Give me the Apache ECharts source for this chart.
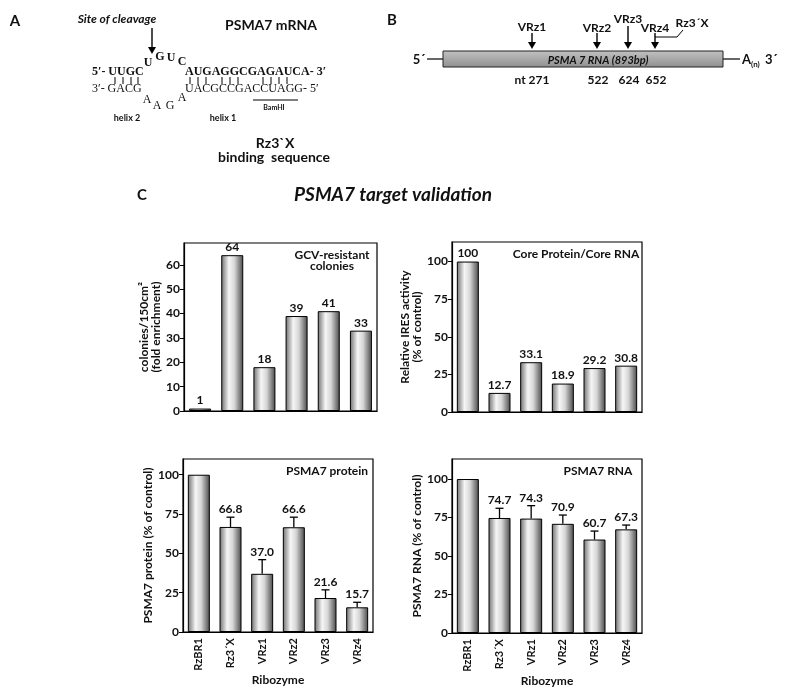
<!DOCTYPE html>
<html>
<head>
<meta charset="utf-8">
<script src="https://cdn.jsdelivr.net/npm/echarts@6/dist/echarts.min.js"></script>
<style>
  html, body { margin: 0; padding: 0; background: #fff; }
  #main { width: 788px; height: 695px; }
</style>
</head>
<body>
<div id="main"></div>
<script>
// ---- data ----
const ribozymes = ['RzBR1', 'Rz3´X', 'VRz1', 'VRz2', 'VRz3', 'VRz4'];
const gcvColonies = [1, 64, 18, 39, 41, 33];
const iresActivity = [100, 12.7, 33.1, 18.9, 29.2, 30.8];
const proteinLevel = [100, 66.8, 37.0, 66.6, 21.6, 15.7];
const proteinError = [0, 6.2, 9.0, 6.4, 5.2, 3.2];
const rnaLevel = [100, 74.7, 74.3, 70.9, 60.7, 67.3];
const rnaError = [0, 6.3, 8.4, 5.7, 5.5, 2.8];
const gcvTicks = [0, 10, 20, 30, 40, 50, 60];
const pctTicks = [0, 25, 50, 75, 100];
const siteNames = ['VRz1', 'VRz2', 'VRz3', 'VRz4'];
const siteNt = ['nt 271', '522', '624', '652'];

const FONT = 'Lato, "Open Sans", sans-serif';
const SERIF = '"Liberation Serif", "DejaVu Serif", serif';
const INK = '#111';

const barFill = {
  type: 'linear', x: 0, y: 0, x2: 1, y2: 0,
  colorStops: [
    { offset: 0, color: '#6e6e6e' },
    { offset: 0.35, color: '#f6f6f6' },
    { offset: 0.6, color: '#d6d6d6' },
    { offset: 1, color: '#484848' }
  ]
};

const chart = echarts.init(document.getElementById('main'));

function yAxis(idx, max, ticks, name, gap) {
  return {
    type: 'value', gridIndex: idx, min: 0, max: max,
    axisLine: { show: true, lineStyle: { color: '#000', width: 1.2 } },
    axisTick: { show: true, length: 4, lineStyle: { color: '#000' }, customValues: ticks },
    axisLabel: { customValues: ticks, color: INK, fontWeight: 'bold', fontSize: 12, margin: 4, fontFamily: FONT },
    splitLine: { show: false },
    name: name, nameLocation: 'middle', nameGap: gap,
    nameTextStyle: { color: INK, fontWeight: 'bold', fontSize: 12, fontFamily: FONT, lineHeight: 12 }
  };
}

function xAxis(idx, bottom) {
  return {
    type: 'category', gridIndex: idx, data: ribozymes,
    axisLine: { show: true, lineStyle: { color: '#000', width: 1.2 } },
    axisTick: { show: false },
    axisLabel: bottom
      ? { show: true, rotate: 90, color: INK, fontWeight: 'bold', fontSize: 11, margin: 6, fontFamily: FONT }
      : { show: false },
    name: bottom ? 'Ribozyme' : '', nameLocation: 'middle', nameGap: 42,
    nameTextStyle: { color: INK, fontWeight: 'bold', fontSize: 12, fontFamily: FONT }
  };
}

function bars(idx, data, withLabel) {
  return {
    type: 'bar', xAxisIndex: idx, yAxisIndex: idx, data: data, barWidth: 22,
    itemStyle: { color: barFill, borderColor: '#000', borderWidth: 1 },
    label: {
      show: withLabel, position: 'top', distance: 2, color: INK,
      fontWeight: 'bold', fontSize: 12, fontFamily: FONT
    }
  };
}

function errorBars(idx, values, errors) {
  return {
    type: 'custom', xAxisIndex: idx, yAxisIndex: idx, z: 5,
    data: values.map((v, i) => [i, v, errors[i]]),
    renderItem: function (params, api) {
      const e = api.value(2);
      if (!e) return;
      const i = api.value(0), v = api.value(1);
      const base = api.coord([i, v]);
      const top = api.coord([i, v + e]);
      const x = base[0];
      return {
        type: 'group',
        children: [
          { type: 'line', shape: { x1: x, y1: base[1], x2: x, y2: top[1] }, style: { stroke: '#000', lineWidth: 1.3 } },
          { type: 'line', shape: { x1: x - 4, y1: top[1], x2: x + 4, y2: top[1] }, style: { stroke: '#000', lineWidth: 1.3 } },
          { type: 'text', x: x, y: top[1] - 2,
            style: { text: v.toFixed(1), align: 'center', verticalAlign: 'bottom',
                     font: 'bold 12px ' + FONT, fill: INK } }
        ]
      };
    }
  };
}

function txt(x, y, text, font, align, extra) {
  return {
    type: 'text', x: x, y: y, silent: true,
    style: Object.assign({ text: text, font: font, fill: INK, align: align || 'center', verticalAlign: 'middle' }, extra || {})
  };
}
function seg(x1, y1, x2, y2, w) {
  return { type: 'line', silent: true, shape: { x1, y1, x2, y2 }, style: { stroke: '#000', lineWidth: w || 1 } };
}
function arrowDown(x, y1, y2) {
  return [
    seg(x, y1, x, y2 - 5, 1.4),
    { type: 'polygon', silent: true, shape: { points: [[x - 4, y2 - 7], [x + 4, y2 - 7], [x, y2]] }, style: { fill: '#000' } }
  ];
}

// ---- panel A: ribozyme / mRNA pairing ----
const panelA = [
  txt(15, 21, 'A', 'bold 15px ' + FONT),
  txt(117, 19, 'Site of cleavage', 'italic bold 12px ' + FONT),
  ...arrowDown(152, 28, 54),
  txt(271, 25, 'PSMA7 mRNA', 'bold 14px ' + FONT),
  txt(92, 72, '5′- UUGC', 'bold 12px ' + SERIF, 'left'),
  txt(148, 63, 'U', 'bold 12px ' + SERIF),
  txt(160, 57, 'G', 'bold 12px ' + SERIF),
  txt(171, 58, 'U', 'bold 12px ' + SERIF),
  txt(182, 62, 'C', 'bold 12px ' + SERIF),
  txt(185, 72, 'AUGAGGCGAGAUCA- 3′', 'bold 12px ' + SERIF, 'left'),
  txt(92, 89, '3′- GACG', '12px ' + SERIF, 'left'),
  txt(147, 100, 'A', '12px ' + SERIF),
  txt(157, 106, 'A', '12px ' + SERIF),
  txt(170, 106, 'G', '12px ' + SERIF),
  txt(182, 98, 'A', '12px ' + SERIF),
  txt(185, 89, 'UACGCCGACCUAGG- 5′', '12px ' + SERIF, 'left'),
  seg(253, 100, 298, 100),
  txt(274, 108, 'BamHI', 'bold 7px ' + FONT),
  txt(127, 118, 'helix 2', 'bold 9px ' + FONT),
  txt(223, 118, 'helix 1', 'bold 9px ' + FONT),
  txt(275, 143, 'Rz3`X', 'bold 14px ' + FONT),
  txt(274, 157, 'binding  sequence', 'bold 14px ' + FONT)
];
[115, 123, 131, 138, 190, 198, 206, 222, 230, 238, 263, 271, 279, 287].forEach(function (x) {
  panelA.push(seg(x, 77, x, 84, 1));
});

// ---- panel B: cleavage sites on PSMA7 RNA ----
const siteX = [532, 597, 628, 655];
const siteY = [27, 28, 19, 28];
const panelB = [
  txt(392, 20, 'B', 'bold 15px ' + FONT),
  seg(427, 59, 443, 59, 1.2),
  seg(723, 59, 740, 59, 1.2),
  {
    type: 'rect', silent: true, shape: { x: 443, y: 51, width: 280, height: 16 },
    style: {
      fill: { type: 'linear', x: 0, y: 0, x2: 0, y2: 1,
              colorStops: [{ offset: 0, color: '#c2c2c2' }, { offset: 1, color: '#8f8f8f' }] },
      stroke: '#222', lineWidth: 1
    }
  },
  txt(598, 60, 'PSMA 7 RNA (893bp)', 'italic bold 11px ' + FONT),
  txt(419, 60, '5´', 'bold 13px ' + FONT),
  txt(742, 60, 'A', 'bold 13px ' + FONT, 'left'),
  txt(751, 64, '(n)', 'bold 8px ' + FONT, 'left'),
  txt(765, 60, '3´', 'bold 13px ' + FONT, 'left'),
  txt(692, 23, 'Rz3´X', 'bold 12px ' + FONT),
  { type: 'polyline', silent: true, shape: { points: [[683, 30], [677, 37], [655, 37]] }, style: { stroke: '#000', lineWidth: 1, fill: null } }
];
siteNames.forEach(function (n, i) {
  panelB.push(txt(siteX[i], siteY[i], n, 'bold 12px ' + FONT));
  panelB.push(...arrowDown(siteX[i], i === 2 ? 26 : 33, 49));
  panelB.push(txt(siteX[i] + (i === 0 ? 0 : 1), 80, siteNt[i], 'bold 12px ' + FONT));
});

// ---- panel C headings and in-plot captions ----
const panelC = [
  txt(142, 195, 'C', 'bold 15px ' + FONT),
  txt(393, 195, 'PSMA7 target validation', 'italic bold 19px ' + FONT),
  txt(332, 255, 'GCV-resistant', 'bold 12px ' + FONT),
  txt(332, 266, 'colonies', 'bold 12px ' + FONT),
  txt(576, 254, 'Core Protein/Core RNA', 'bold 12px ' + FONT),
  txt(327, 471, 'PSMA7 protein', 'bold 12px ' + FONT),
  txt(598, 471, 'PSMA7 RNA', 'bold 12px ' + FONT)
];

const gridStyle = { show: true, borderColor: '#000', borderWidth: 1.2, backgroundColor: 'transparent' };

chart.setOption({
  backgroundColor: '#fff',
  animation: false,
  grid: [
    Object.assign({ left: 184, top: 243, width: 193, height: 168 }, gridStyle),
    Object.assign({ left: 452, top: 242, width: 190, height: 170 }, gridStyle),
    Object.assign({ left: 183, top: 459, width: 190, height: 173 }, gridStyle),
    Object.assign({ left: 452, top: 459, width: 190, height: 174 }, gridStyle)
  ],
  xAxis: [xAxis(0, false), xAxis(1, false), xAxis(2, true), xAxis(3, true)],
  yAxis: [
    yAxis(0, 69, gcvTicks, 'colonies/150cm²\n(fold enrichment)', 20),
    yAxis(1, 113, pctTicks, 'Relative IRES activity\n(% of control)', 28),
    yAxis(2, 110, pctTicks, 'PSMA7 protein (% of control)', 24),
    yAxis(3, 113, pctTicks, 'PSMA7 RNA (% of control)', 25)
  ],
  series: [
    bars(0, gcvColonies, true),
    bars(1, iresActivity, true),
    bars(2, proteinLevel, false),
    errorBars(2, proteinLevel, proteinError),
    bars(3, rnaLevel, false),
    errorBars(3, rnaLevel, rnaError)
  ],
  graphic: { elements: panelA.concat(panelB, panelC) }
});
</script>
</body>
</html>
